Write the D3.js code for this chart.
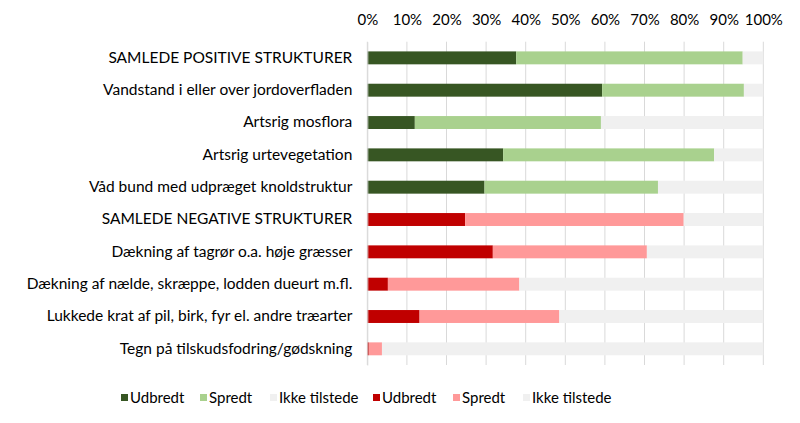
<!DOCTYPE html>
<html><head><meta charset="utf-8">
<script src="https://cdn.jsdelivr.net/npm/d3@7"></script>
<style>body{margin:0;background:#fff}svg{display:block}text{font-family:Lato,"Open Sans",sans-serif;fill:#000}</style>
</head><body><svg id="c" width="800" height="423"></svg>
<script>
const categories = [
  "SAMLEDE POSITIVE STRUKTURER",
  "Vandstand i eller over jordoverfladen",
  "Artsrig mosflora",
  "Artsrig urtevegetation",
  "Våd bund med udpræget knoldstruktur",
  "SAMLEDE NEGATIVE STRUKTURER",
  "Dækning af tagrør o.a. høje græsser",
  "Dækning af nælde, skræppe, lodden dueurt m.fl.",
  "Lukkede krat af pil, birk, fyr el. andre træarter",
  "Tegn på tilskudsfodring/gødskning"
];
const groups = ["pos","pos","pos","pos","pos","neg","neg","neg","neg","neg"];
const udbredt = [37.6, 59.3, 12.0, 34.3, 29.6, 24.7, 31.7, 5.2, 13.2, 0.4];
const spredt  = [57.2, 35.8, 47.0, 53.3, 43.8, 55.2, 38.9, 33.2, 35.3, 3.3];
const ikke    = [5.2, 4.9, 41.0, 12.4, 26.6, 20.1, 29.4, 61.6, 51.5, 96.3];
const ticks = [0,10,20,30,40,50,60,70,80,90,100];
const seriesKeys = ["Udbredt","Spredt","Ikke tilstede"];
const legendItems = [
  {label:"Udbredt", color:"#375623"},
  {label:"Spredt", color:"#a9d18e"},
  {label:"Ikke tilstede", color:"#f0f0f0"},
  {label:"Udbredt", color:"#c00000"},
  {label:"Spredt", color:"#ff9999"},
  {label:"Ikke tilstede", color:"#f0f0f0"}
];
const colors = {
  pos: ["#375623","#a9d18e","#f0f0f0"],
  neg: ["#c00000","#ff9999","#f0f0f0"]
};

const rows = categories.map((c,i)=>({cat:c, group:groups[i], "Udbredt":udbredt[i], "Spredt":spredt[i], "Ikke tilstede":ikke[i]}));
const stacked = d3.stack().keys(seriesKeys)(rows);

const svg = d3.select("#c");
const x = d3.scaleLinear().domain([0,100]).range([367.3, 763.3]);
const y = d3.scaleBand().domain(categories).range([41.7, 365]).paddingInner(0.6).paddingOuter(0.3);

svg.append("g").selectAll("line").data(ticks).join("line")
  .attr("x1", d=>x(d)).attr("x2", d=>x(d)).attr("y1", 41.7).attr("y2", 365)
  .attr("stroke", "#d9d9d9").attr("stroke-width", 1);

stacked.forEach((s, k) => {
  svg.append("g").selectAll("rect").data(s).join("rect")
    .attr("x", d=>x(d[0])).attr("width", d=>x(d[1])-x(d[0]))
    .attr("y", d=>y(d.data.cat)).attr("height", y.bandwidth())
    .attr("fill", d=>colors[d.data.group][k]);
});

const xAxis = d3.axisTop(x).tickValues(ticks).tickFormat(d=>d+"%").tickSize(0).tickPadding(0);
const gx = svg.append("g").attr("transform","translate(0,25)").call(xAxis);
gx.select(".domain").remove();
gx.selectAll("text").style("font-size","15px").attr("dy",0).style("font-family","Lato, sans-serif").attr("fill","#000");

const yAxis = d3.axisLeft(y).tickSize(0).tickPadding(15);
const gy = svg.append("g").attr("transform","translate(367.3,0)").call(yAxis);
gy.select(".domain").attr("stroke","#d9d9d9");
gy.selectAll("text").style("font-size","15.5px").style("font-family","Lato, sans-serif").attr("fill","#000");

const lx = [121, 200, 270, 373, 453, 523];
const lg = svg.append("g").selectAll("g").data(legendItems).join("g")
  .attr("transform",(d,i)=>`translate(${lx[i]},398)`);
lg.append("rect").attr("x",0).attr("y",-4).attr("width",7).attr("height",7).attr("fill",d=>d.color);
lg.append("text").attr("x",9).attr("y",0).attr("dy","0.35em").style("font-size","15px").text(d=>d.label);
</script></body></html>
